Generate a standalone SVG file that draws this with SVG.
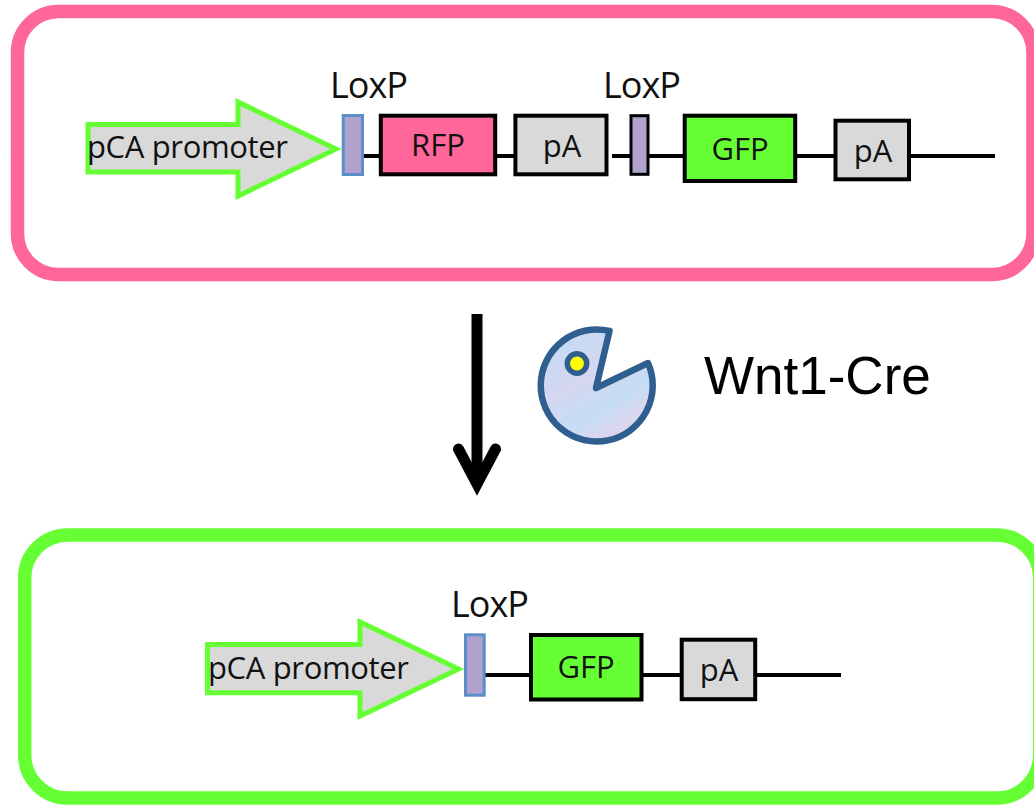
<svg xmlns="http://www.w3.org/2000/svg" width="1034" height="805" viewBox="0 0 1034 805">
<style>
.t{font-family:"Open Sans","Noto Sans","DejaVu Sans",sans-serif;fill:#111}
.lox{font-size:36px;font-weight:400}
.lab{font-size:31px}
.box{stroke:#000;stroke-width:4}
.grey{fill:#d9d9d9}.gfp{fill:#66ff33}
.prom{fill:#d9d9d9;stroke:#66ff33;stroke-width:5}
.lp{fill:#b0a2cc;stroke-width:3}
.w{stroke:#000;stroke-width:4;fill:none}
.frame{fill:#fff;stroke-width:13.5}
</style>
<defs>
<linearGradient id="cre" x1="0" y1="0" x2="0.6" y2="1">
<stop offset="0" stop-color="#bfdcf5"/><stop offset="0.5" stop-color="#d6d6f0"/><stop offset="0.75" stop-color="#c4def4"/><stop offset="1" stop-color="#dfd3ec"/>
</linearGradient>
</defs>
<g id="frame-top"><rect class="frame" x="17.500" y="11.500" width="1015.500" height="263" rx="41" stroke="#ff6699"/></g>
<g id="frame-bottom"><rect class="frame" x="24.700" y="535" width="1015" height="263" rx="43" stroke="#66ff33"/></g>
<g id="connectors">
<path class="w" d="M363 156H380M496 156H514M612 156H630M648 156H684M797 156H834M911 156H995"/>
<path class="w" d="M485 675H530M643 675H681M757 675H841"/>
<path d="M477 314V480" stroke="#000" stroke-width="11" fill="none"/>
<path d="M458.500 449L477 484L495.500 449" stroke="#000" stroke-width="11" stroke-linecap="round" stroke-miterlimit="10" fill="none"/>
</g>
<g id="promoter-top"><path class="prom" d="M88 124.500H238V102L336 149L238 196V172H88Z"/><text class="t lab" x="87" y="158" textLength="201">pCA promoter</text></g>
<g id="loxp-1"><text class="t lox" x="330" y="98" textLength="78">LoxP</text><rect class="lp" x="343.200" y="115.500" width="19.300" height="59" stroke="#5b8fc9"/></g>
<g id="rfp"><rect class="box" x="380.800" y="115.700" width="114.400" height="58.600" fill="#ff6699"/><text class="t lab" x="438" y="156" text-anchor="middle">RFP</text></g>
<g id="pa-1"><rect class="box grey" x="515.400" y="115.700" width="91.100" height="58.600"/><text class="t lab" x="562" y="157" text-anchor="middle">pA</text></g>
<g id="loxp-2"><text class="t lox" x="603" y="98" textLength="78">LoxP</text><rect class="lp box" x="631" y="115.700" width="17" height="58.600"/></g>
<g id="gfp-1"><rect class="box gfp" x="684.700" y="115.700" width="110.500" height="65.300"/><text class="t lab" x="740" y="160" text-anchor="middle">GFP</text></g>
<g id="pa-2"><rect class="box grey" x="835.500" y="120.700" width="73.500" height="58.600"/><text class="t lab" x="873" y="162" text-anchor="middle">pA</text></g>
<g id="cre-enzyme">
<path d="M609.500 331A56 56 0 1 0 648 363L596 388Z" fill="url(#cre)" stroke="#2f5f8f" stroke-width="6.500" stroke-linejoin="round"/>
<circle cx="577" cy="363.500" r="9.700" fill="#ffff00" stroke="#2f5f8f" stroke-width="5.500"/>
</g>
<g id="cre-label"><text x="704" y="394" font-family="'Liberation Sans',Arial,sans-serif" font-size="53" fill="#000">Wnt1-Cre</text></g>
<g id="promoter-bottom"><path class="prom" d="M207.500 644.500H360V622L458.500 669L360 716V692.700H207.500Z"/><text class="t lab" x="208" y="679" textLength="201">pCA promoter</text></g>
<g id="loxp-3"><text class="t lox" x="451" y="617" textLength="78">LoxP</text><rect class="lp" x="465.500" y="634.800" width="18.700" height="60.400" stroke="#5b8fc9"/></g>
<g id="gfp-2"><rect class="box gfp" x="531" y="635" width="110.500" height="64.500"/><text class="t lab" x="586" y="678" text-anchor="middle">GFP</text></g>
<g id="pa-3"><rect class="box grey" x="681.700" y="639.700" width="73.500" height="59.500"/><text class="t lab" x="719" y="681" text-anchor="middle">pA</text></g>
</svg>
